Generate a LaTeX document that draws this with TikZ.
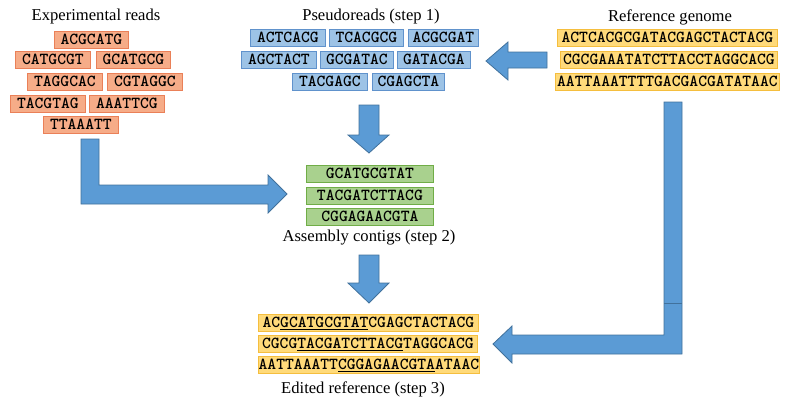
\documentclass[tikz,border=0pt]{standalone}
\usepackage{fontspec}
\setmainfont{Liberation Serif}
\newcommand\seqfont{\ttfamily\bfseries\fontsize{16.8}{17}\selectfont}
\definecolor{rdfill}{RGB}{246,172,136}
\definecolor{rdline}{RGB}{234,128,88}
\definecolor{psfill}{RGB}{157,195,230}
\definecolor{psline}{RGB}{96,146,204}
\definecolor{cgfill}{RGB}{169,209,142}
\definecolor{cgline}{RGB}{112,173,71}
\definecolor{rffill}{RGB}{255,218,122}
\definecolor{rfline}{RGB}{245,190,62}
\definecolor{arrfill}{RGB}{91,155,213}
\definecolor{arrline}{RGB}{65,113,156}
\begin{document}
\begin{tikzpicture}[x=1pt,y=-1pt,
  box/.style={draw, line width=0.8pt, anchor=north west, minimum height=17pt,
    inner sep=0pt, text height=11.5pt, text depth=1.5pt, font=\seqfont},
  rd/.style={box, fill=rdfill, draw=rdline, minimum width=#1},
  ps/.style={box, fill=psfill, draw=psline, minimum width=#1},
  cg/.style={box, fill=cgfill, draw=cgline, minimum width=#1},
  rf/.style={box, fill=rffill, draw=rfline, minimum width=#1},
  title/.style={font=\fontsize{16.6}{19}\selectfont, inner sep=0pt},
  blockarrow/.style={fill=arrfill, draw=arrline, line width=0.8pt, line join=miter}]
\useasboundingbox (0,0) rectangle (788,408);

% titles
\node[title] (texp) at (96,17) {Experimental reads};
\node[title] (tps) at (371,17) {Pseudoreads (step 1)};
\node[title] (tref) at (670,17) {Reference genome};
\node[title] (tcg) at (369,238) {Assembly contigs (step 2)};
\node[title] (ted) at (363,389) {Edited reference (step 3)};

% experimental reads
\node[rd=74] (e1) at (54,31) {ACGCATG};
\node[rd=75] (e2) at (15,51) {CATGCGT};
\node[rd=74] (e3) at (96,51) {GCATGCG};
\node[rd=75] (e4) at (27,73) {TAGGCAC};
\node[rd=75] (e5) at (107,73) {CGTAGGC};
\node[rd=75] (e6) at (10,95) {TACGTAG};
\node[rd=75] (e7) at (89,95) {AAATTCG};
\node[rd=75] (e8) at (43,116) {TTAAATT};

% pseudoreads
\node[ps=75] (p1) at (250,29) {ACTCACG};
\node[ps=74] (p2) at (329,29) {TCACGCG};
\node[ps=70] (p3) at (408,29) {ACGCGAT};
\node[ps=75] (p4) at (241,51) {AGCTACT};
\node[ps=73] (p5) at (320,51) {GCGATAC};
\node[ps=73] (p6) at (397,51) {GATACGA};
\node[ps=75] (p7) at (292,73) {TACGAGC};
\node[ps=72] (p8) at (372,73) {CGAGCTA};

% reference genome
\node[rf=220] (r1) at (557,29) {ACTCACGCGATACGAGCTACTACG};
\node[rf=217] (r2) at (560,51) {CGCGAAATATCTTACCTAGGCACG};
\node[rf=224] (r3) at (555,73) {AATTAAATTTTGACGACGATATAAC};

% contigs
\node[cg=127] (c1) at (306,165) {GCATGCGTAT};
\node[cg=127] (c2) at (306,187) {TACGATCTTACG};
\node[cg=127] (c3) at (306,208) {CGGAGAACGTA};

% edited reference
\node[rf=220] (d1) at (258,314) {AC\underline{GCATGCGTAT}CGAGCTACTACG};
\node[rf=219] (d2) at (258,335) {CGCG\underline{TACGATCTTACG}TAGGCACG};
\node[rf=221] (d3) at (258,356) {AATTAAATT\underline{CGGAGAACGTA}ATAAC};

% block arrows
\draw[blockarrow] (547,52) -- (508,52) -- (508,42) -- (486,61) -- (508,80) -- (508,68) -- (547,68) -- cycle;
\draw[blockarrow] (359,105) -- (379,105) -- (379,135) -- (389,135) -- (369,153) -- (348,135) -- (359,135) -- cycle;
\draw[blockarrow] (81,139) -- (99,139) -- (99,185) -- (268,185) -- (268,175) -- (287,194) -- (268,213) -- (268,204) -- (81,204) -- cycle;
\draw[blockarrow] (359,255) -- (379,255) -- (379,283) -- (389,283) -- (369,303) -- (348,283) -- (359,283) -- cycle;
\draw[blockarrow] (664,102) -- (682,102) -- (682,354) -- (512,354) -- (512,363) -- (493,344) -- (512,326) -- (512,335) -- (664,335) -- cycle;
\draw[arrline, line width=0.6pt] (664,303) -- (682,303);
\end{tikzpicture}
\end{document}
